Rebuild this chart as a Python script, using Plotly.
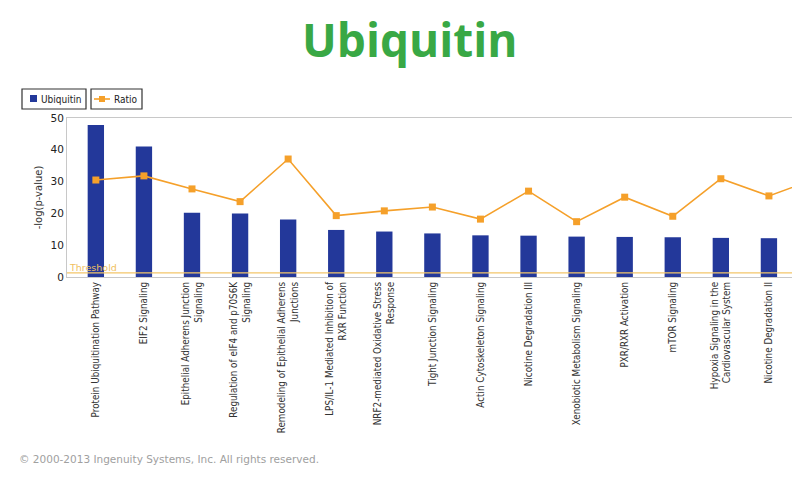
import plotly.graph_objects as go

categories = [
    "Protein Ubiquitination Pathway",
    "EIF2 Signaling",
    "Epithelial Adherens Junction<br>Signaling",
    "Regulation of eIF4 and p70S6K<br>Signaling",
    "Remodeling of Epithelial Adherens<br>Junctions",
    "LPS/IL-1 Mediated Inhibition of<br>RXR Function",
    "NRF2-mediated Oxidative Stress<br>Response",
    "Tight Junction Signaling",
    "Actin Cytoskeleton Signaling",
    "Nicotine Degradation III",
    "Xenobiotic Metabolism Signaling",
    "PXR/RXR Activation",
    "mTOR Signaling",
    "Hypoxia Signaling in the<br>Cardiovascular System",
    "Nicotine Degradation II",
    "(next pathway)",
]
ubiquitin = [47.8, 41.0, 20.2, 20.0, 18.1, 14.8, 14.3, 13.7, 13.1, 13.0, 12.7, 12.6, 12.5, 12.3, 12.2, 12.0]
ratio = [30.5, 31.8, 27.7, 23.7, 37.1, 19.3, 20.8, 22.0, 18.2, 27.0, 17.4, 25.1, 19.1, 30.9, 25.5, 31.0]
threshold = 1.3
yticks = [0, 10, 20, 30, 40, 50]

BLUE = "#23389a"
ORANGE = "#f5a02a"

W, H = 800, 497
OFF = 8  # page offset of the figure div
# plot area in page pixels
PL, PR, PT, PB = 67, 792, 118, 277
L, R, T, B = PL - OFF, PR - OFF, PT - OFF, PB - OFF


def px(xp):
    return (xp - OFF - L) / (R - L)


def py(yp):
    return (B - (yp - OFF)) / (B - T)


x = list(range(len(categories)))

fig = go.Figure()
fig.add_trace(go.Bar(x=x, y=ubiquitin, name="Ubiquitin", marker=dict(color=BLUE, line=dict(width=0)),
                     width=0.34))
fig.add_trace(go.Scatter(x=x, y=ratio, name="Ratio", mode="lines+markers",
                         line=dict(color=ORANGE, width=1.6),
                         marker=dict(symbol="square", size=7, color=ORANGE)))

fig.add_shape(type="line", xref="paper", x0=0, x1=1, yref="y", y0=threshold, y1=threshold,
              line=dict(color="#f3c66a", width=1.2))
fig.add_annotation(text="Threshold", xref="paper", x=0.0, yref="y", y=threshold, xanchor="left",
                   yanchor="bottom", showarrow=False, font=dict(size=9.5, color="#f0c060", family="DejaVu Sans"),
                   yshift=-2)

fig.add_annotation(text="<b>Ubiquitin</b>", xref="paper", yref="paper", x=px(410), y=py(39), xanchor="center",
                   yanchor="middle", showarrow=False,
                   font=dict(size=46, color="#39a845", family="Open Sans"))
fig.add_annotation(text="© 2000-2013 Ingenuity Systems, Inc. All rights reserved.", xref="paper", yref="paper",
                   x=px(17), y=py(459), xanchor="left", yanchor="middle", showarrow=False,
                   font=dict(size=10.5, color="#a0a0a0", family="DejaVu Sans"))

# manual legend (two boxed entries)
fig.add_shape(type="rect", xref="paper", yref="paper", x0=px(22), x1=px(86), y0=py(109), y1=py(89),
              line=dict(color="#333333", width=1.2))
fig.add_shape(type="rect", xref="paper", yref="paper", x0=px(91), x1=px(142), y0=py(109), y1=py(89),
              line=dict(color="#333333", width=1.2))
fig.add_shape(type="rect", xref="paper", yref="paper", x0=px(30), x1=px(37), y0=py(102), y1=py(95),
              fillcolor=BLUE, line=dict(width=0))
fig.add_shape(type="line", xref="paper", yref="paper", x0=px(94), x1=px(110), y0=py(99), y1=py(99),
              line=dict(color=ORANGE, width=1.6))
fig.add_shape(type="rect", xref="paper", yref="paper", x0=px(99), x1=px(105), y0=py(102), y1=py(96),
              fillcolor=ORANGE, line=dict(width=0))
fig.add_annotation(text="Ubiquitin", xref="paper", yref="paper", x=px(39), y=py(99), xanchor="left",
                   yanchor="middle", showarrow=False, font=dict(size=10, color="#222222", family="DejaVu Sans Condensed"))
fig.add_annotation(text="Ratio", xref="paper", yref="paper", x=px(112), y=py(99), xanchor="left",
                   yanchor="middle", showarrow=False, font=dict(size=10, color="#222222", family="DejaVu Sans Condensed"))

fig.update_layout(
    width=W, height=H,
    margin=dict(l=L, r=W - R, t=T, b=H - B, autoexpand=False),
    paper_bgcolor="white", plot_bgcolor="white",
    font=dict(family="DejaVu Sans", size=9, color="#333333"),
    showlegend=False,
    bargap=0.6,
)
fig.update_xaxes(range=[-0.6, 14.48], tickmode="array", tickvals=x, ticktext=categories,
                 tickangle=-90, showgrid=False, showline=True, linecolor="#c8c8c8", mirror=True,
                 ticks="", tickfont=dict(size=9.8, family="DejaVu Sans Condensed", color="#333333"),
                 zeroline=False, automargin=False)
fig.update_yaxes(range=[0, 50], tickvals=yticks, showgrid=False, showline=True, linecolor="#c8c8c8",
                 mirror=True, ticks="", title=dict(text="-log(p-value)", standoff=6,
                 font=dict(size=10, family="DejaVu Sans")),
                 tickfont=dict(size=10.5, family="DejaVu Sans", color="#222222"), zeroline=False,
                 automargin=False)

fig.write_html("out.html")
